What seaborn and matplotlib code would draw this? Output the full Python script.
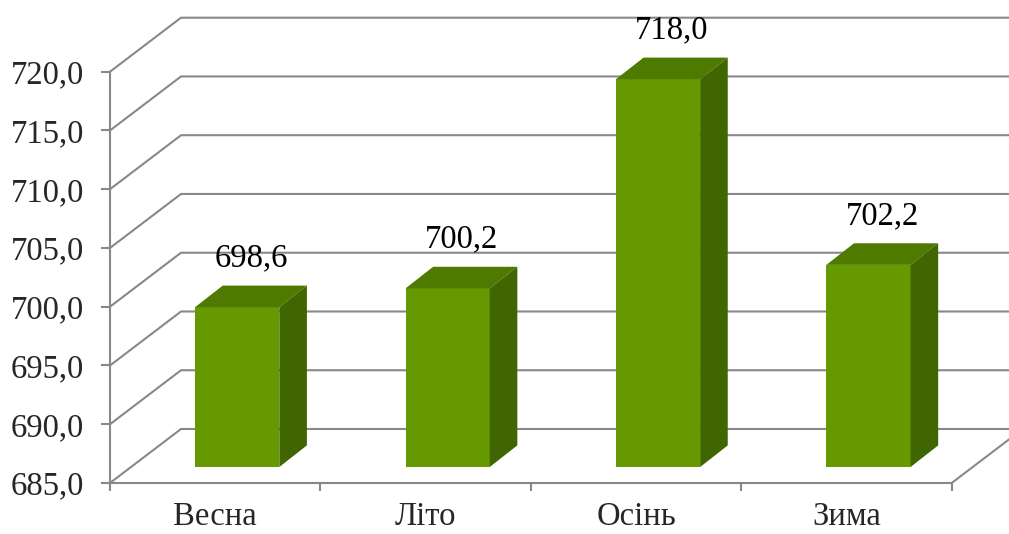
import matplotlib
matplotlib.use("Agg")
import matplotlib.pyplot as plt
from matplotlib.transforms import offset_copy
from matplotlib.patches import Polygon
import seaborn as sns

categories = ["Весна", "Літо", "Осінь", "Зима"]
values = [698.6, 700.2, 718.0, 702.2]
value_labels = ["698,6", "700,2", "718,0", "702,2"]
y_ticks = [685, 690, 695, 700, 705, 710, 715, 720]
y_tick_labels = ["685,0", "690,0", "695,0", "700,0", "705,0", "710,0", "715,0", "720,0"]

BASE = 685
YMAX = 720
FRONT = "#669900"
TOP = "#4e7a00"
SIDE = "#3f6600"
GRID = "#888888"
FS = 23.5

sns.set_style("white")
plt.rcParams["font.family"] = ["Liberation Serif", "DejaVu Serif"]

W, H = 1009, 534
fig = plt.figure(figsize=(W / 100, H / 100), dpi=100)
left, right, top, bottom = 110, 951.7, 71.7, 483
ax = fig.add_axes([left / W, (H - bottom) / H, (right - left) / W, (bottom - top) / H])

sns.barplot(x=categories, y=values, color=FRONT, width=0.4, saturation=1, ax=ax, zorder=3)
ax.set_xlim(-0.5, 3.5)
ax.set_ylim(BASE, YMAX)

# scales: pixels per data unit
px_x = (right - left) / 4
px_y = (bottom - top) / (YMAX - BASE)

# back wall offset
bdx, bdy = 71 / px_x, 54 / px_y
# bar depth
ddx, ddy = 27.6 / px_x, 21.6 / px_y

bar_tr = offset_copy(ax.transData, fig=fig, x=22, y=16, units="dots")

# gridlines on back wall with diagonals on side wall
for v in y_ticks:
    ax.plot([-0.5, -0.5 + bdx, 4.6], [v, v + bdy, v + bdy], color=GRID, lw=1.5,
            clip_on=False, zorder=1, solid_joinstyle="miter")
# floor right edge
ax.plot([3.5, 3.5 + bdx], [BASE, BASE + bdy], color=GRID, lw=1.5, clip_on=False, zorder=1)

# 3D bars
for i, (p, v, lab) in enumerate(zip(ax.patches, values, value_labels)):
    x0 = p.get_x()
    w = p.get_width()
    x1 = x0 + w
    p.set_y(BASE)
    p.set_height(v - BASE)
    p.set_transform(bar_tr)
    p.set_edgecolor("none")
    p.set_clip_on(False)
    top_poly = Polygon([(x0, v), (x1, v), (x1 + ddx, v + ddy), (x0 + ddx, v + ddy)],
                       closed=True, facecolor=TOP, edgecolor="none", transform=bar_tr,
                       zorder=3, clip_on=False)
    side_poly = Polygon([(x1, BASE), (x1 + ddx, BASE + ddy), (x1 + ddx, v + ddy), (x1, v)],
                        closed=True, facecolor=SIDE, edgecolor="none", transform=bar_tr,
                        zorder=3, clip_on=False)
    ax.add_patch(top_poly)
    ax.add_patch(side_poly)
    lab_tr = offset_copy(bar_tr, fig=fig, x=0, y=12, units="dots")
    ax.text(x0 + w / 2 + ddx / 2, v + ddy, lab, transform=lab_tr, ha="center", va="bottom",
            fontsize=FS, color="black", zorder=4, clip_on=False)

# axes styling
for s in ["top", "right"]:
    ax.spines[s].set_visible(False)
for s in ["left", "bottom"]:
    ax.spines[s].set_color(GRID)
    ax.spines[s].set_linewidth(1.5)
    ax.spines[s].set_zorder(2)

ax.set_yticks(y_ticks)
ax.set_yticklabels(y_tick_labels)
ax.tick_params(axis="y", direction="out", length=6.5, width=1.5, color=GRID, pad=12,
               labelsize=FS, left=True)
ax.set_xticks(range(len(categories)))
ax.set_xticklabels(categories)
ax.tick_params(axis="x", which="major", length=0, pad=13, labelsize=FS)
ax.set_xticks([-0.5, 0.5, 1.5, 2.5, 3.5], minor=True)
ax.tick_params(axis="x", which="minor", direction="out", length=5.5, width=1.5, color=GRID, bottom=True)
ax.set_xlabel("")
ax.set_ylabel("")
ax.grid(False)

fig.savefig("out.png", dpi=100)
